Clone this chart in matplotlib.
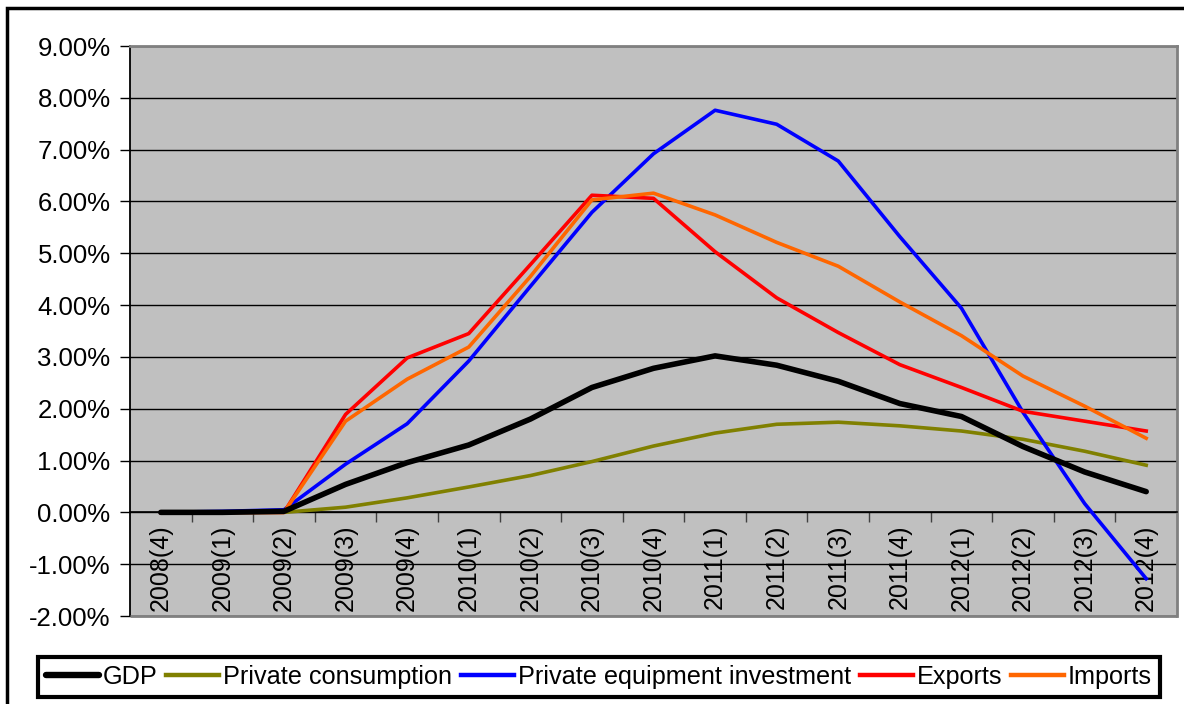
import numpy as np
import matplotlib
matplotlib.use('Agg')
import matplotlib.pyplot as plt
from matplotlib.patches import Rectangle
from matplotlib.ticker import FuncFormatter, FixedLocator

# Quarter labels
quarters = ['2008(4)', '2009(1)', '2009(2)', '2009(3)', '2009(4)',
            '2010(1)', '2010(2)', '2010(3)', '2010(4)',
            '2011(1)', '2011(2)', '2011(3)', '2011(4)',
            '2012(1)', '2012(2)', '2012(3)', '2012(4)']

# Series values in percent
gdp = [0.00, 0.00, 0.02, 0.54, 0.96, 1.30, 1.80, 2.41, 2.78,
       3.02, 2.84, 2.53, 2.10, 1.85, 1.27, 0.78, 0.40]
consumption = [0.00, 0.00, 0.00, 0.10, 0.28, 0.49, 0.71, 0.98, 1.28,
               1.53, 1.70, 1.74, 1.67, 1.57, 1.41, 1.18, 0.91]
equipment = [0.00, 0.02, 0.05, 0.93, 1.71, 2.92, 4.36, 5.79, 6.92,
             7.76, 7.49, 6.78, 5.32, 3.94, 1.93, 0.17, -1.28]
exports = [0.00, 0.00, 0.00, 1.89, 2.98, 3.45, 4.78, 6.12, 6.06,
           5.03, 4.14, 3.47, 2.85, 2.41, 1.95, 1.76, 1.57]
imports = [0.00, 0.00, 0.00, 1.76, 2.57, 3.19, 4.55, 6.03, 6.16,
           5.74, 5.21, 4.75, 4.06, 3.41, 2.63, 2.05, 1.43]

plt.rcParams['font.family'] = ['Liberation Sans', 'DejaVu Sans']

fig = plt.figure(figsize=(11.84, 7.04), dpi=100)
ax = fig.add_axes([130 / 1184, 1 - 616 / 704, 1047 / 1184, 570 / 704])
ax.set_facecolor('#C0C0C0')

x = np.arange(len(quarters))
ax.plot(x, consumption, color='#808000', lw=2.6, label='Private consumption', zorder=3)
ax.plot(x, equipment, color='#0000FF', lw=2.6, label='Private equipment investment', zorder=4)
ax.plot(x, exports, color='#FF0000', lw=2.6, label='Exports', zorder=4)
ax.plot(x, imports, color='#FF6600', lw=2.6, label='Imports', zorder=5)
ax.plot(x, gdp, color='black', lw=4, solid_capstyle='round', label='GDP', zorder=6)

ax.set_xlim(-0.5, len(quarters) - 0.5)
ax.set_ylim(-2, 9)
ax.set_yticks(np.arange(-2, 10, 1))
ax.yaxis.set_major_formatter(FuncFormatter(lambda v, p: f'{v:.2f}%'))
ax.tick_params(axis='y', labelsize=18.5, length=7, width=1, pad=7, color='black')
ax.yaxis.grid(True, color='black', lw=1)
ax.set_axisbelow(True)

# x axis sits at zero, labels hang below it
ax.spines['bottom'].set_position(('data', 0))
ax.spines['bottom'].set_color('black')
ax.spines['bottom'].set_linewidth(1.2)
ax.set_xticks(x)
ax.set_xticklabels(quarters, rotation=90, fontsize=18)
ax.tick_params(axis='x', which='major', length=0, pad=9)
ax.xaxis.set_minor_locator(FixedLocator(np.arange(0.5, len(quarters) - 0.5, 1)))
ax.tick_params(axis='x', which='minor', length=7, width=1, color='#404040', direction='out')

ax.spines['left'].set_color('black')
ax.spines['left'].set_linewidth(1.3)
for s in ['top', 'right']:
    ax.spines[s].set_color('#808080')
    ax.spines[s].set_linewidth(2)
ax.add_patch(Rectangle((0, 0), 1, 0.0, transform=ax.transAxes, fill=False,
                       edgecolor='#808080', lw=2, zorder=7, clip_on=False))

# legend in the order of the reference
handles, labels = ax.get_legend_handles_labels()
order = ['GDP', 'Private consumption', 'Private equipment investment', 'Exports', 'Imports']
hmap = dict(zip(labels, handles))
leg = fig.legend([hmap[k] for k in order], order, loc='center',
                 bbox_to_anchor=(599 / 1184, 1 - 677 / 704), ncol=5, fontsize=18.2,
                 frameon=True, fancybox=False, framealpha=1, handlelength=2.1,
                 handletextpad=0.15, columnspacing=0.35, borderpad=0.3)
leg.get_frame().set_edgecolor('black')
leg.get_frame().set_linewidth(3)
for h in leg.legend_handles:
    h.set_linewidth(h.get_linewidth() + 0.6)

# outer chart border
fig.patches.append(Rectangle((7 / 1184, -0.1), 1.2, 1.1 - 8 / 704,
                             transform=fig.transFigure, fill=False,
                             edgecolor='black', lw=2.5))

fig.savefig('out.png', dpi=100)
